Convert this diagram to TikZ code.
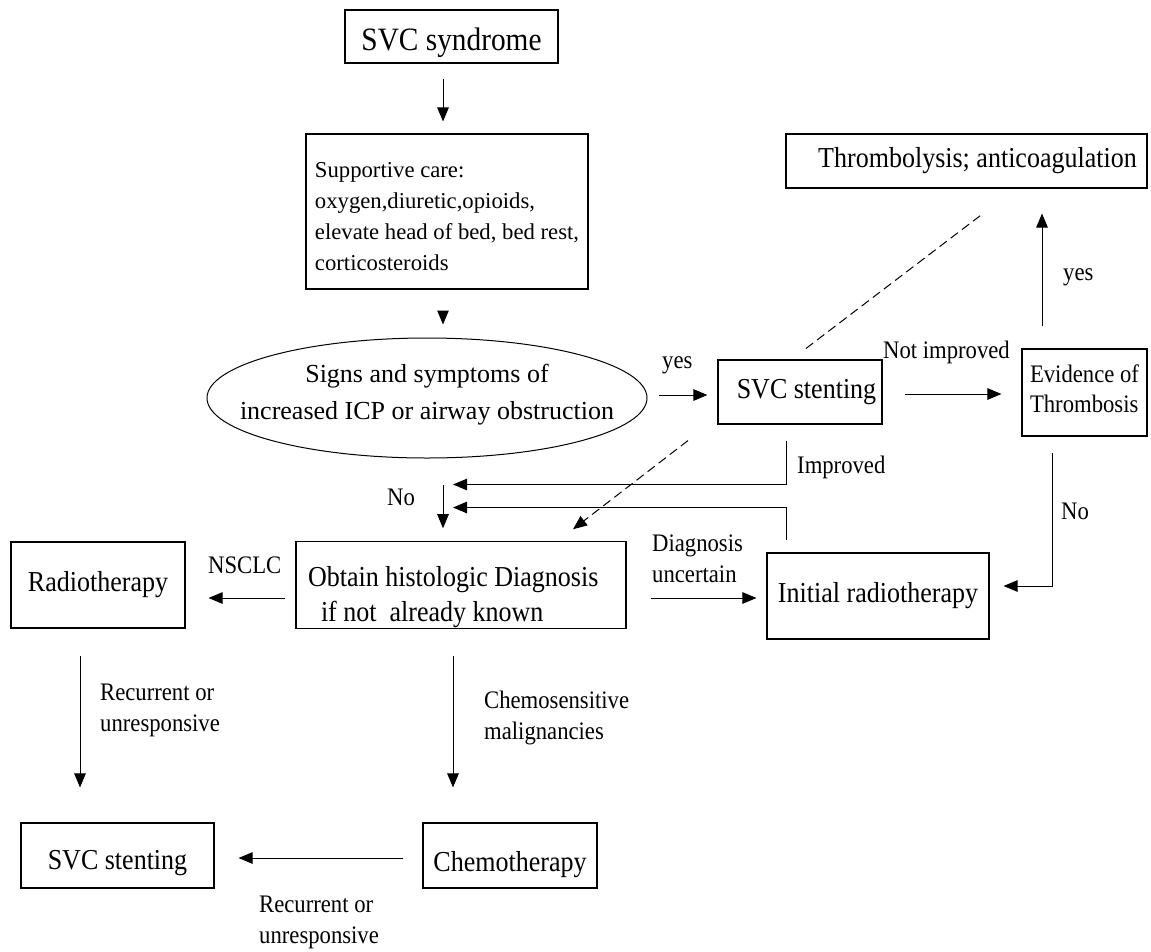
\documentclass[tikz,border=0pt]{standalone}
\usepackage{fontspec}
\setmainfont{Liberation Serif}[FakeStretch=0.9]
\newfontfamily\plainfont{Liberation Serif}
\usetikzlibrary{arrows.meta,shapes.geometric,calc}
\newcommand\bigsz{\fontsize{32.6pt}{38pt}\selectfont}
\newcommand\mainsz{\fontsize{28.9pt}{35pt}\selectfont}
\newcommand\lblsz{\fontsize{25.2pt}{31pt}\selectfont}
\newcommand\evsz{\fontsize{25.2pt}{30pt}\selectfont}
\newcommand\supsz{\plainfont\fontsize{22.7pt}{31pt}\selectfont}
\newcommand\ellsz{\plainfont\fontsize{26pt}{37pt}\selectfont}
\newcommand\mytop[1]{\rule{0pt}{#1}}
\newcommand\mybot[1]{\rule[-#1]{0pt}{0pt}}
\tikzset{
  box/.style={draw, line width=1.1pt, inner sep=0pt, align=center},
  tip/.style={-{Triangle[length=14pt,width=11.5pt]}},
  arr/.style={line width=1pt, tip},
  dsh/.style={line width=1pt, dash pattern=on 9pt off 5pt},
  lbl/.style={inner sep=0pt, align=flush left, font=\lblsz},
}
\begin{document}
\begin{tikzpicture}[x=1pt,y=-1pt]
\useasboundingbox (0,0) rectangle (1151,951);
% boxes
\node[box, minimum width=213pt, minimum height=53pt, font=\bigsz] (svc) at (451.5,36.5) {\mytop{35.1pt}SVC syndrome};
\node[box, minimum width=282pt, minimum height=155pt, font=\supsz, align=flush left] (sup) at (447,211.5)
  {\mytop{26pt}Supportive care:\\ oxygen,diuretic,opioids,\\ elevate head of bed, bed rest,\\ corticosteroids};
\node[ellipse, draw, line width=1pt, minimum width=440pt, minimum height=120pt, inner sep=0pt, font=\ellsz] (ell) at (427,398)
  {\makebox[0pt]{\begin{tabular}{@{}c@{}}Signs and symptoms of\\ increased ICP or airway obstruction\mybot{19pt}\end{tabular}}};
\node[box, minimum width=164pt, minimum height=64pt, font=\mainsz] (st1) at (800,392) {\hspace*{13pt}SVC stenting};
\node[box, minimum width=361pt, minimum height=54pt, font=\mainsz] (thr) at (966.5,161) {\hspace*{22pt}Thrombolysis; anticoagulation};
\node[box, minimum width=125pt, minimum height=87pt, font=\evsz, align=flush left] (evid) at (1084.5,392.5) {Evidence of\\ Thrombosis\mybot{8.3pt}};
\node[box, minimum width=330pt, minimum height=86pt, font=\mainsz, text width=306pt, inner xsep=12pt, align=flush left] (obt) at (461,585)
  {\mytop{45.2pt}Obtain histologic Diagnosis\\ \hspace*{13pt}if not\ \ already known};
\node[box, minimum width=222pt, minimum height=86pt, font=\mainsz] (init) at (878,596) {Initial radiotherapy};
\node[box, minimum width=174pt, minimum height=86pt, font=\mainsz] (rad) at (98,585) {Radiotherapy};
\node[box, minimum width=193pt, minimum height=65pt, font=\mainsz] (st2) at (117.5,855.5) {\mytop{33.7pt}SVC stenting};
\node[box, minimum width=174pt, minimum height=65pt, font=\mainsz] (chemo) at (510,855.5) {\mytop{38.7pt}Chemotherapy};
% labels
\node[lbl, anchor=base west] (lyes1) at (662,368) {yes};
\node[lbl, anchor=base west] (lnot) at (883,358) {Not improved};
\node[lbl, anchor=base west] (lyes2) at (1063,280) {yes};
\node[lbl, anchor=base west] (limp) at (797,473) {Improved};
\node[lbl, anchor=base west] (lno1) at (387,505) {No};
\node[lbl, anchor=base west] (lno2) at (1061,519) {No};
\node[lbl, anchor=base west] (lnsclc) at (208,573) {NSCLC};
\node[lbl, anchor=north west] (ldiag) at (652,535) {Diagnosis\\uncertain};
\node[lbl, anchor=north west] (lrec1) at (100,683.5) {Recurrent or\\unresponsive};
\node[lbl, anchor=north west] (lchem) at (484,691) {Chemosensitive\\malignancies};
\node[lbl, anchor=north west] (lrec2) at (259,895.5) {Recurrent or\\unresponsive};
% helper coordinates
\coordinate (nostart) at ([shift={(16pt,-26pt)}]ell.south);
\coordinate (d1s) at ([shift={(6pt,11pt)}]st1.north);
\coordinate (d1e) at ([shift={(16.5pt,-25pt)}]thr.south);
\coordinate (d2s) at ([shift={(-112pt,-16pt)}]st1.south);
\coordinate (d2e) at ([shift={(112pt,12pt)}]obt.north);
% connectors
\draw[arr, shorten <=15pt, shorten >=12pt] ([xshift=-8.5pt]svc.south) -- ([xshift=-8.5pt]svc.south |- sup.north);
\draw[arr, shorten <=23pt, shorten >=13pt] ([xshift=-4pt]sup.south) -- ([xshift=-4pt]sup.south |- ell.north);
\draw[arr, shorten <=11pt, shorten >=10pt] ([yshift=3pt]ell.east) -- ([yshift=3pt]ell.east -| st1.west);
\draw[arr, shorten <=22pt, shorten >=20pt] ([yshift=-2pt]st1.east) -- ([yshift=-2pt]st1.east -| evid.west);
\draw[arr, shorten <=22pt, shorten >=25pt] ([xshift=-42.5pt]evid.north) -- ([xshift=-42.5pt]evid.north |- thr.south);
\draw[dsh] (d1s) -- (d1e);
\draw[dsh, tip] (d2s) -- (d2e);
\draw[arr] ([shift={(-14pt,-16pt)}]st1.south) |- ([xshift=10pt]nostart);
\draw[arr] ([shift={(-92pt,12pt)}]init.north) |- ([shift={(10pt,-23pt)}]nostart);
\draw[arr, shorten >=13pt] (nostart) -- (nostart |- obt.north);
\draw[arr] ([shift={(-32.5pt,-16pt)}]evid.south) |- ([shift={(14pt,10pt)}]init.east);
\draw[arr, shorten <=24pt, shorten >=10pt] ([yshift=-13pt]obt.east) -- ([yshift=-13pt]obt.east -| init.west);
\draw[arr, shorten <=10pt, shorten >=23pt] ([yshift=-13pt]obt.west) -- ([yshift=-13pt]obt.west -| rad.east);
\draw[arr, shorten <=27pt, shorten >=35pt] ([xshift=-18pt]rad.south) -- ([xshift=-18pt]rad.south |- st2.north);
\draw[arr, shorten <=27pt, shorten >=35pt] ([xshift=-8pt]obt.south) -- ([xshift=-8pt]obt.south |- chemo.north);
\draw[arr, shorten <=19pt, shorten >=24pt] ([yshift=-2.5pt]chemo.west) -- ([yshift=-2.5pt]chemo.west -| st2.east);
\end{tikzpicture}
\end{document}
